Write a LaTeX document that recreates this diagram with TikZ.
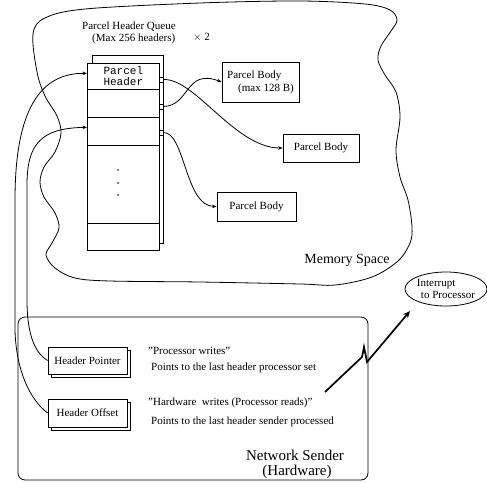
\documentclass[tikz,border=0pt]{standalone}
\usepackage{fontspec}
\setmainfont{Liberation Serif}
\setmonofont{Liberation Mono}
\usetikzlibrary{shapes.geometric,arrows.meta,calc}
\begin{document}
\begin{tikzpicture}[x=1pt,y=-1pt,
  txt/.style={font=\fontsize{11}{13}\selectfont, inner sep=0pt},
  big/.style={font=\fontsize{14}{17}\selectfont, inner sep=0pt},
  bigger/.style={font=\fontsize{15}{18}\selectfont, inner sep=0pt},
  box/.style={draw, line width=0.7pt, fill=white, inner sep=0pt, font=\fontsize{11}{13}\selectfont},
  cell/.style={draw, line width=0.7pt, fill=white, inner sep=0pt, minimum width=72pt, anchor=north west},
  sq/.style={draw, line width=0.6pt, fill=white, inner sep=0pt, minimum width=4pt, minimum height=5pt},
  arr/.style={line width=0.8pt, -{Stealth[length=4.5pt,width=3.5pt]}},
  con/.style={line width=0.8pt}]
\useasboundingbox (0,0) rectangle (487,482);
\fill[white] (0,0) rectangle (487,482);

% memory space blob
\draw[line width=0.8pt] plot[smooth cycle, tension=0.55] coordinates {
 (33,34) (45,18) (85,9) (200,3) (300,1) (365,4) (390,10) (397,20) (391,31)
 (381,46) (378,60) (385,75) (396,92) (400,117) (396,150) (400,177) (408,200)
 (412,227) (410,243) (398,261) (372,277) (335,285) (300,284) (200,282)
 (110,281) (75,278) (55,268) (46,255) (52,243) (59,228) (55,213) (44,197)
 (40,182) (44,167) (55,152) (61,133) (57,116) (45,96) (37,72)};

% network sender box
\draw[line width=0.8pt, rounded corners=7pt] (18,317) rectangle (368,480);

% queue
\node[cell, minimum width=71pt, minimum height=188pt] (qb) at (92,55) {};
\node[cell, minimum height=26pt, align=center, font=\ttfamily\fontsize{11}{11}\selectfont] (row1) at (87,63) {Parcel\\Header};
\node[cell, minimum height=28pt] (row2) at (87,89) {};
\node[cell, minimum height=28pt] (row3) at (87,117) {};
\node[cell, minimum height=78pt] (row4) at (87,145) {};
\node[cell, minimum height=27pt] (row5) at (87,223) {};
\foreach \yy in {170,183,195} \fill (118,\yy) circle (0.8pt);
\node[sq] (s1) at (161,79.5) {};
\node[sq] (s2) at (161,106.5) {};
\node[sq] (s3) at (161,132.5) {};

% labels
\node[txt, anchor=west] (lq1) at (82,27) {Parcel Header Queue};
\node[txt, anchor=west] (lq2) at (92,39) {(Max 256 headers)};
\node[txt, anchor=west] (lq3) at (193,37) {$\times$ 2};

% parcel bodies
\node[box, minimum width=77pt, minimum height=40pt, align=left] (pb1) at (260.5,82) {Parcel Body\\\hspace{11pt}(max 128 B)};
\node[box, minimum width=76pt, minimum height=28pt] (pb2) at (321,148) {Parcel Body};
\node[box, minimum width=79pt, minimum height=29pt] (pb3) at (256.5,206.5) {Parcel Body};

\draw[arr] (s1.east) .. controls (195,78) and (235,148) .. (pb2.west);
\draw[arr] (s2.east) .. controls (190,106) and (185,68) .. (pb1.west);
\draw[arr] (s3.east) .. controls (185,132) and (185,206) .. (pb3.west);

\node[big] (mem) at (347,260) {Memory Space};

% header pointer / offset
\node[box, minimum width=79pt, minimum height=27pt] (hps) at (90.5,363.5) {};
\node[box, minimum width=79pt, minimum height=27pt] (hp) at (87.5,360.5) {Header Pointer};
\node[box, minimum width=79pt, minimum height=28pt] (hos) at (90.5,416) {};
\node[box, minimum width=79pt, minimum height=28pt] (ho) at (87.5,413) {Header Offset};

\draw[arr] (ho.west) .. controls (30,400) and (16,370) .. (15,330) -- (15,200)
   .. controls (15,110) and (40,73) .. ([yshift=3pt]row1.west);
\draw[arr] (hp.west) .. controls (33,352) and (27,330) .. (27,300) -- (27,185)
   .. controls (27,145) and (40,128) .. ([yshift=4pt]row3.west);

\node[txt, anchor=west] (t1) at (148,351) {"Processor writes"};
\node[txt, anchor=west] (t2) at (151,368) {Points to the last header processor set};
\node[txt, anchor=west] (t3) at (148,403) {"Hardware\ \ writes (Processor reads)"};
\node[txt, anchor=west] (t4) at (151,422) {Points to the last header sender processed};

\node[bigger] (ns1) at (295,455) {Network Sender};
\node[bigger] (ns2) at (297,472) {(Hardware)};

% interrupt
\node[draw, ellipse, line width=0.8pt, minimum width=82pt, minimum height=34pt, inner sep=0pt,
      align=left, font=\fontsize{11}{12}\selectfont] (int) at (446,289) {Interrupt\\\hspace{4pt}to Processor};
\coordinate (zs) at (325,392);
\coordinate (ze) at (410,311);
\draw[line width=1.7pt, -{Stealth[length=7pt,width=6pt]}] (zs) -- (362,357) -- (364,347) -- (367,362) -- (ze);
\end{tikzpicture}
\end{document}
